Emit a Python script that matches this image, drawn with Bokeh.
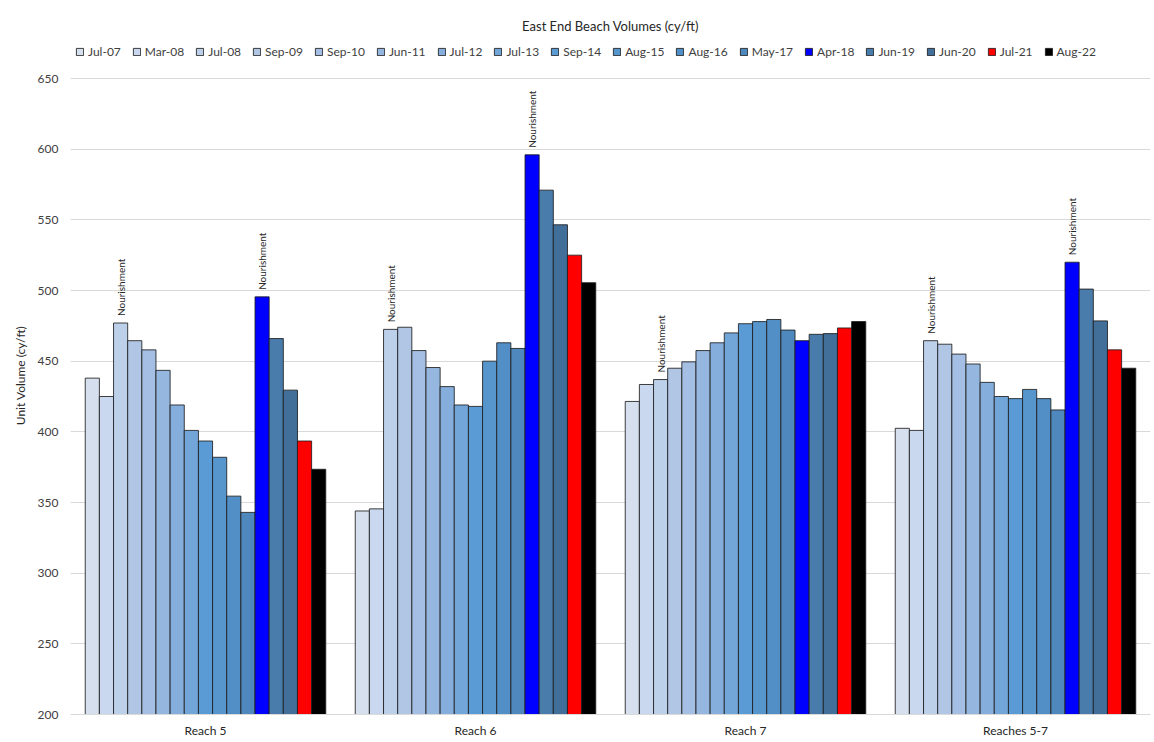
from bokeh.plotting import figure
from bokeh.models import (ColumnDataSource, FactorRange, Range1d, Legend, LegendItem,
                          FixedTicker)
from bokeh.transform import dodge
from bokeh.embed import file_html
from bokeh.resources import INLINE
from bokeh.core.properties import value
import math

# ---------------- data ----------------
categories = ["Reach 5", "Reach 6", "Reach 7", "Reaches 5-7"]

surveys = ["Jul-07", "Mar-08", "Jul-08", "Sep-09", "Sep-10", "Jun-11", "Jul-12",
           "Jul-13", "Sep-14", "Aug-15", "Aug-16", "May-17", "Apr-18", "Jun-19",
           "Jun-20", "Jul-21", "Aug-22"]

colors = ["#D5DFEE", "#C9D8EE", "#BDD0EA", "#B0C6E4", "#A5BFE4", "#95B6DF", "#86AEDC",
          "#72A6D8", "#5B9BD5", "#5696CC", "#518FC6", "#4E88BC", "#0000FF", "#4A7CAB",
          "#426F9A", "#FF0000", "#000000"]

jul07 = [438.0, 344.0, 421.5, 402.5]
mar08 = [425.0, 345.5, 433.5, 401.0]
jul08 = [477.0, 472.5, 437.0, 464.5]
sep09 = [464.5, 474.0, 445.0, 462.0]
sep10 = [458.0, 457.5, 449.5, 455.0]
jun11 = [443.5, 445.5, 457.5, 448.0]
jul12 = [419.0, 432.0, 463.0, 435.0]
jul13 = [401.0, 419.0, 470.0, 425.0]
sep14 = [393.5, 418.0, 476.5, 423.5]
aug15 = [382.0, 450.0, 478.0, 430.0]
aug16 = [354.5, 463.0, 479.5, 423.5]
may17 = [343.0, 459.0, 472.0, 415.5]
apr18 = [495.5, 596.0, 464.5, 520.0]
jun19 = [466.0, 571.0, 469.0, 501.0]
jun20 = [429.5, 546.5, 469.5, 478.5]
jul21 = [393.5, 525.0, 473.5, 458.0]
aug22 = [373.5, 505.5, 478.0, 445.0]

series_values = [jul07, mar08, jul08, sep09, sep10, jun11, jul12, jul13, sep14,
                 aug15, aug16, may17, apr18, jun19, jun20, jul21, aug22]

# "Nourishment" annotations: (category, survey)
nourish_categories = ["Reach 5", "Reach 5", "Reach 6", "Reach 6", "Reach 7",
                      "Reaches 5-7", "Reaches 5-7"]
nourish_surveys = ["Jul-08", "Apr-18", "Jul-08", "Apr-18", "Jul-08",
                   "Jul-08", "Apr-18"]
nourish_text = "Nourishment"

y_ticks = [200, 250, 300, 350, 400, 450, 500, 550, 600, 650]

# ---------------- figure ----------------
FONT = "Lato"
n = len(surveys)
bar_w = 0.0524

W, H = 1152, 740
TOP, BOTTOM, LEFT, RIGHT = 36, 26, 70, 2
frame_h = H - TOP - BOTTOM
px_per_unit = (frame_h - 42) / (max(y_ticks) - min(y_ticks))
y_top = max(y_ticks) + 42 / px_per_unit   # room above the 650 line for the legend

p = figure(x_range=FactorRange(*categories), y_range=Range1d(min(y_ticks), y_top),
           width=W, height=H, output_backend="svg", toolbar_location=None,
           min_border_left=LEFT, min_border_right=RIGHT, min_border_bottom=BOTTOM,
           min_border_top=TOP)

p.title.text = "East End Beach Volumes (cy/ft)"
p.title.align = "center"
p.title.text_font = FONT
p.title.text_font_size = "13px"
p.title.text_font_style = "normal"
p.title.text_color = "#262626"
p.title.standoff = 5

items = []
for i, (s, vals, c) in enumerate(zip(surveys, series_values, colors)):
    src = ColumnDataSource(dict(cat=categories, top=vals))
    off = (i - (n - 1) / 2) * bar_w
    r = p.vbar(x=dodge("cat", off, range=p.x_range), top="top", bottom=200,
               width=bar_w, source=src, fill_color=c,
               line_color="#1f1f1f", line_width=1, line_alpha=0.85)
    items.append(LegendItem(label=s, renderers=[r]))

# nourishment labels
for s in sorted(set(nourish_surveys), key=surveys.index):
    idx = surveys.index(s)
    cats = [c for c, ss in zip(nourish_categories, nourish_surveys) if ss == s]
    ys = [series_values[idx][categories.index(c)] for c in cats]
    off = (idx - (n - 1) / 2) * bar_w
    src = ColumnDataSource(dict(cat=cats, y=ys, t=[nourish_text] * len(cats)))
    p.text(x=dodge("cat", off, range=p.x_range), y="y", text="t", source=src,
           angle=math.pi / 2, text_align="left", text_baseline="middle",
           y_offset=-7, text_font=value(FONT), text_font_size="10px",
           text_color="#262626")

legend = Legend(items=items, orientation="horizontal", location=(5, frame_h - 23),
                label_text_font=FONT, label_text_font_size="12px",
                label_text_color="#404040", glyph_width=9, glyph_height=9,
                label_standoff=4, spacing=11, padding=2, margin=0,
                border_line_color=None, background_fill_alpha=0)
p.add_layout(legend, "center")

# axes
p.yaxis.ticker = FixedTicker(ticks=y_ticks)
p.ygrid.ticker = FixedTicker(ticks=y_ticks)
p.yaxis.axis_label = "Unit Volume (cy/ft)"
p.yaxis.axis_label_text_font = FONT
p.yaxis.axis_label_text_font_size = "12px"
p.yaxis.axis_label_text_font_style = "normal"
p.yaxis.axis_label_text_color = "#262626"
p.yaxis.axis_label_standoff = 7
p.yaxis.axis_line_color = None
p.yaxis.major_tick_line_color = None
p.yaxis.minor_tick_line_color = None
p.yaxis.major_tick_out = 0
p.yaxis.major_label_standoff = 12
p.yaxis.major_label_text_font = FONT
p.yaxis.major_label_text_font_size = "12px"
p.yaxis.major_label_text_color = "#404040"

p.xaxis.axis_line_color = "#D9D9D9"
p.xaxis.major_tick_line_color = None
p.xaxis.major_tick_out = 0
p.xaxis.major_label_text_font = FONT
p.xaxis.major_label_text_font_size = "12px"
p.xaxis.major_label_text_color = "#262626"
p.xaxis.major_label_standoff = 8

p.xgrid.grid_line_color = None
p.ygrid.grid_line_color = "#D9D9D9"
p.outline_line_color = None

open("out.html", "w").write(file_html(p, INLINE))
